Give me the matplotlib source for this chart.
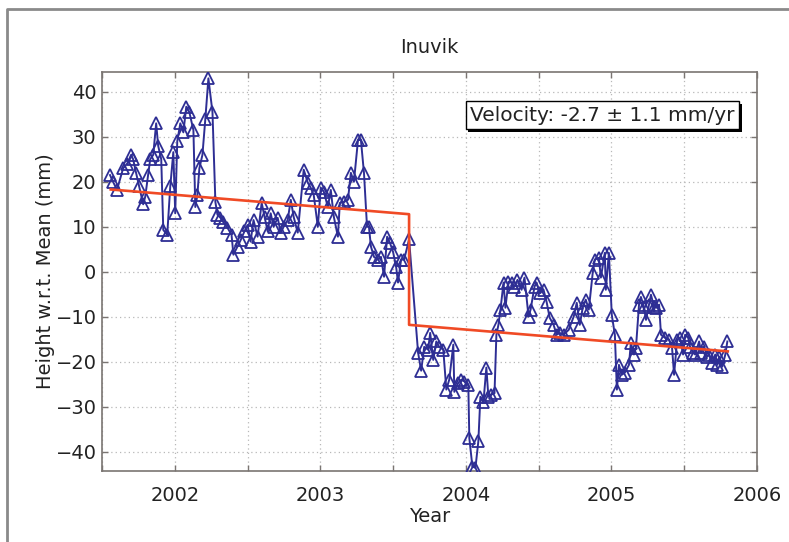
import matplotlib
matplotlib.use("Agg")
import matplotlib.pyplot as plt
import matplotlib.patheffects as pe
from matplotlib.lines import Line2D

# weekly GPS height solutions, Inuvik (decimal year, mm)
years = [
    2001.555, 2001.576, 2001.603, 2001.645, 2001.672, 2001.700, 2001.714, 2001.734,
    2001.755, 2001.783, 2001.797, 2001.817, 2001.831, 2001.852, 2001.872, 2001.886,
    2001.907, 2001.921, 2001.948, 2001.969, 2001.990, 2002.003, 2002.017, 2002.038,
    2002.059, 2002.079, 2002.100, 2002.128, 2002.141, 2002.155, 2002.169, 2002.190,
    2002.210, 2002.231, 2002.259, 2002.279, 2002.293, 2002.314, 2002.334, 2002.362,
    2002.390, 2002.403, 2002.431, 2002.452, 2002.479, 2002.500, 2002.521, 2002.541,
    2002.569, 2002.597, 2002.617, 2002.638, 2002.659, 2002.679, 2002.707, 2002.728,
    2002.748, 2002.776, 2002.797, 2002.817, 2002.845, 2002.886, 2002.914, 2002.934,
    2002.955, 2002.983, 2003.003, 2003.024, 2003.052, 2003.072, 2003.093, 2003.121,
    2003.134, 2003.162, 2003.190, 2003.210, 2003.231, 2003.259, 2003.279, 2003.300,
    2003.321, 2003.334, 2003.348, 2003.369, 2003.397, 2003.417, 2003.438, 2003.459,
    2003.479, 2003.500, 2003.521, 2003.534, 2003.555, 2003.576, 2003.610, 2003.672,
    2003.693, 2003.714, 2003.741, 2003.755, 2003.776, 2003.797, 2003.817, 2003.845,
    2003.866, 2003.886, 2003.914, 2003.921, 2003.948, 2003.969, 2003.990, 2004.017,
    2004.024, 2004.045, 2004.066, 2004.086, 2004.100, 2004.121, 2004.141, 2004.155,
    2004.176, 2004.197, 2004.210, 2004.224, 2004.238, 2004.259, 2004.272, 2004.293,
    2004.314, 2004.334, 2004.355, 2004.383, 2004.403, 2004.431, 2004.445, 2004.472,
    2004.486, 2004.507, 2004.534, 2004.555, 2004.576, 2004.603, 2004.624, 2004.645,
    2004.672, 2004.707, 2004.741, 2004.762, 2004.783, 2004.803, 2004.824, 2004.845,
    2004.872, 2004.886, 2004.914, 2004.928, 2004.955, 2004.962, 2004.983, 2005.003,
    2005.024, 2005.038, 2005.052, 2005.072, 2005.093, 2005.121, 2005.134, 2005.155,
    2005.169, 2005.190, 2005.203, 2005.224, 2005.238, 2005.259, 2005.272, 2005.293,
    2005.307, 2005.328, 2005.341, 2005.369, 2005.397, 2005.417, 2005.431, 2005.452,
    2005.472, 2005.493, 2005.507, 2005.528, 2005.541, 2005.562, 2005.576, 2005.603,
    2005.617, 2005.638, 2005.659, 2005.672, 2005.693, 2005.714, 2005.728, 2005.741,
    2005.762, 2005.783, 2005.797,
]
heights = [
    21.5, 20.0, 18.2, 23.0, 24.0, 26.0, 25.0, 22.0,
    19.0, 15.0, 16.7, 21.5, 25.0, 26.0, 33.0, 28.0,
    25.0, 9.3, 8.2, 19.0, 26.6, 13.0, 29.0, 33.0,
    31.0, 36.7, 35.5, 31.5, 14.4, 17.0, 23.0, 26.0,
    34.0, 43.0, 35.5, 15.5, 12.7, 12.0, 11.0, 9.8,
    8.2, 3.8, 5.6, 7.0, 9.0, 10.4, 6.7, 11.5,
    7.8, 15.3, 12.2, 9.0, 13.0, 10.0, 12.0, 8.7,
    10.0, 11.5, 16.0, 12.2, 8.7, 22.7, 19.8, 18.7,
    17.0, 10.0, 18.7, 17.8, 14.4, 18.2, 12.2, 7.8,
    15.3, 15.5, 16.0, 22.0, 20.0, 29.3, 29.3, 22.0,
    10.0, 10.0, 5.6, 3.3, 2.7, 3.3, -1.1, 7.8,
    6.4, 4.4, 1.1, -2.4, 2.7, 2.7, 7.2, -18.0,
    -22.0, -16.7, -17.3, -13.6, -19.6, -15.5, -16.7, -17.3,
    -26.2, -24.0, -16.2, -26.7, -24.7, -24.0, -24.4, -25.1,
    -37.0, -43.3, -43.6, -37.7, -27.8, -29.0, -21.3, -27.8,
    -27.3, -27.0, -14.0, -11.8, -8.4, -2.4, -8.0, -2.2,
    -2.4, -3.3, -1.8, -4.0, -1.3, -10.0, -8.4, -3.3,
    -2.4, -4.7, -4.0, -6.7, -10.2, -11.8, -14.0, -13.6,
    -14.0, -12.9, -10.0, -6.9, -11.8, -8.0, -6.2, -8.4,
    -0.2, 2.7, 3.1, -1.3, 4.2, -4.0, 4.2, -9.6,
    -14.0, -26.2, -20.7, -22.9, -22.4, -20.7, -15.8, -18.4,
    -16.9, -7.3, -5.6, -7.8, -10.7, -7.3, -5.1, -7.8,
    -8.0, -7.3, -14.0, -14.7, -15.1, -16.9, -22.9, -15.1,
    -14.7, -18.4, -14.0, -14.7, -16.7, -18.0, -18.4, -15.5,
    -18.0, -16.7, -18.9, -18.4, -20.2, -18.4, -20.7, -18.9,
    -21.1, -18.4, -15.5,
]

# fitted trend with offset (red)
fit_years = [2001.56, 2003.61, 2003.61, 2005.80]
fit_heights = [18.3, 12.8, -11.8, -17.7]

xticks = [2001.5, 2002, 2002.5, 2003, 2003.5, 2004, 2004.5, 2005, 2005.5, 2006]
xticklabels = ["", "2002", "", "2003", "", "2004", "", "2005", "", "2006"]
yticks = [-40, -30, -20, -10, 0, 10, 20, 30, 40]

plt.rcParams["font.family"] = "DejaVu Sans"

fig = plt.figure(figsize=(7.89, 5.42), dpi=100)
ax = fig.add_axes([0.1293, 0.131, 0.830, 0.736])

ax.plot(years, heights, color="#2e2e94", lw=1.4, marker="^", ms=8.5,
        mfc="none", mec="#2e2e94", mew=1.3, zorder=3)
ax.plot(fit_years, fit_heights, color="#f04a25", lw=1.9, zorder=4)

ax.set_xlim(2001.5, 2006)
ax.set_ylim(-44.3, 44.4)
ax.set_xticks(xticks)
ax.set_xticklabels(xticklabels)
ax.set_yticks(yticks)
ax.set_yticklabels([f"{v}".replace("-", "\u2212") for v in yticks])

ax.grid(True, ls=(0, (1, 2.5)), color="#b8b8b8", lw=0.9)
ax.tick_params(direction="in", length=4, width=1, colors="#7a7572",
               labelcolor="#222222", labelsize=14, top=True, right=True)
ax.tick_params(axis="x", pad=11)
ax.tick_params(axis="y", pad=4)
for s in ax.spines.values():
    s.set_color("#7a7572")
    s.set_linewidth(1.2)

ax.set_title("Inuvik", fontsize=14, pad=14, color="#222222")
ax.set_xlabel("Year", fontsize=14, labelpad=1, color="#222222")
ax.set_ylabel("Height w.r.t. Mean (mm)", fontsize=14, labelpad=0, color="#222222")

txt = ax.text(0.764, 0.892, "Velocity: -2.7 \u00b1 1.1 mm/yr", transform=ax.transAxes,
              ha="center", va="center", fontsize=14.5, color="#222222", zorder=6,
              bbox=dict(boxstyle="square,pad=0.22", fc="white", ec="black", lw=1.0))
txt.get_bbox_patch().set_path_effects(
    [pe.withSimplePatchShadow(offset=(2, -2), shadow_rgbFace="black", alpha=1.0)])

# grey frame of the original figure (left and top)
fig.add_artist(Line2D([7 / 789, 7 / 789, 1.0], [0.0, 1 - 9 / 542, 1 - 9 / 542],
                      transform=fig.transFigure, color="#8a8a8a", lw=2))

fig.savefig("out.png", dpi=100)
